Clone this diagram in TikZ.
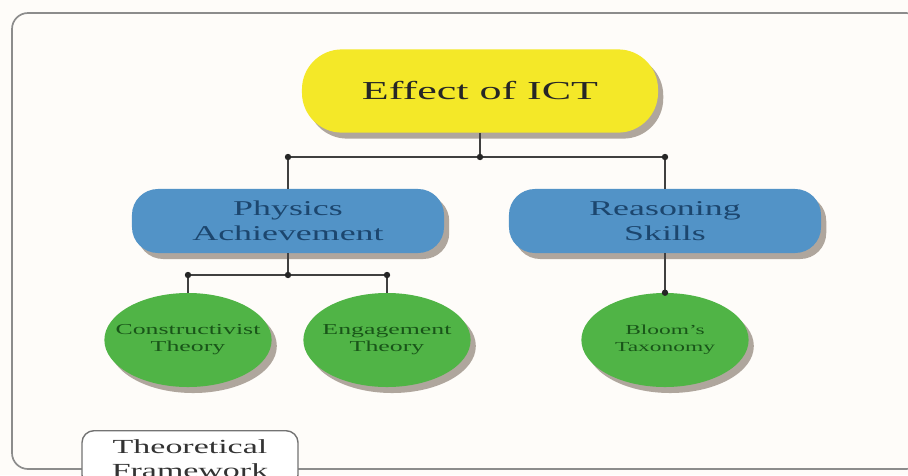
\documentclass[tikz,border=0pt]{standalone}
\usepackage{fontspec}
\setmainfont[FakeStretch=1.7]{Liberation Serif}
\usepackage{xcolor}
\usetikzlibrary{positioning,shapes.geometric,shadows}

\definecolor{ictyellow}{RGB}{244,232,40}
\definecolor{skillblue}{RGB}{82,147,199}
\definecolor{bluetext}{RGB}{28,70,110}
\definecolor{theorygreen}{RGB}{80,180,70}
\definecolor{greentext}{RGB}{25,85,25}
\definecolor{paper}{RGB}{254,252,249}

\begin{document}
\begin{tikzpicture}[x=0.025cm, y=-0.025cm,
    link/.style={draw=black!75, line width=0.8pt},
    shade box/.style={drop shadow={shadow xshift=0.13cm, shadow yshift=-0.15cm, opacity=0.4, fill=black!70!brown}},
    topic/.style={rectangle, rounded corners=1cm, fill=ictyellow, shade box,
        minimum width=8.9cm, minimum height=2.08cm,
        font=\fontsize{18.4}{22}\selectfont, text=black!85},
    area/.style={rectangle, rounded corners=0.65cm, fill=skillblue, shade box,
        minimum width=7.8cm, minimum height=1.6cm, align=center,
        font=\fontsize{15}{17.7}\selectfont, text=bluetext},
    theory/.style={ellipse, fill=theorygreen, shade box, inner sep=0pt,
        minimum width=4.18cm, minimum height=2.35cm},
    theorytext/.style={align=center, font=\fontsize{10.8}{12}\selectfont, text=greentext}]

    \useasboundingbox (0,0) rectangle (908,475);
    \clip (0,0) rectangle (908,475);
    \fill[paper] (0,0) rectangle (908,475);

    % Outer frame
    \draw[black!45, line width=1.2pt, rounded corners=0.4cm] (12,13) rectangle (922,469);

    % Top node
    \node[topic] (ict) at (480,91) {Effect of ICT};

    % Second level
    \node[area] (phys) at (288,221) {Physics\\Achievement};
    \node[area] (reas) at (665,221) {Reasoning\\Skills};

    % Theories
    \node[theory, label={[theorytext]center:{Constructivist\\Theory}}] (cons) at (188,340) {};
    \node[theory, label={[theorytext]center:{Engagement\\Theory}}] (eng) at (387,340) {};
    \node[theory, label={[theorytext, font=\fontsize{9.8}{12}\selectfont]center:{Bloom's\\Taxonomy}}] (bloom) at (665,340) {};

    % Connectors from the top node
    \coordinate (j1) at (288,157);
    \coordinate (j2) at (665,157);
    \coordinate (j0) at (ict.south |- j1);
    \draw[link] (ict.south) -- (j0);
    \draw[link] (j1) -- (j2);
    \draw[link] (j1) -- (phys.north);
    \draw[link] (j2) -- (reas.north);
    \foreach \j in {j0,j1,j2}
        \fill[black!85] (\j) circle (0.08cm);

    % Connectors to the theories
    \coordinate (k0) at (288,275);
    \coordinate (k1) at (cons.north |- k0);
    \coordinate (k2) at (eng.north |- k0);
    \draw[link] (phys.south) -- (k0);
    \draw[link] (k1) -- (k2);
    \draw[link] (k1) -- (cons.north);
    \draw[link] (k2) -- (eng.north);
    \draw[link] (reas.south) -- (bloom.north);
    \foreach \k in {k0,k1,k2}
        \fill[black!85] (\k) circle (0.08cm);
    \fill[black!85] (bloom.north) circle (0.08cm);

    % Caption box
    \node[draw=black!55, line width=1pt, fill=white, rounded corners=0.3cm,
        minimum width=5.4cm, minimum height=1.4cm, anchor=north, align=center,
        font=\fontsize{14.2}{17.7}\selectfont, text=black!80] (tf) at (190,430) {Theoretical\\Framework};
\end{tikzpicture}
\end{document}
